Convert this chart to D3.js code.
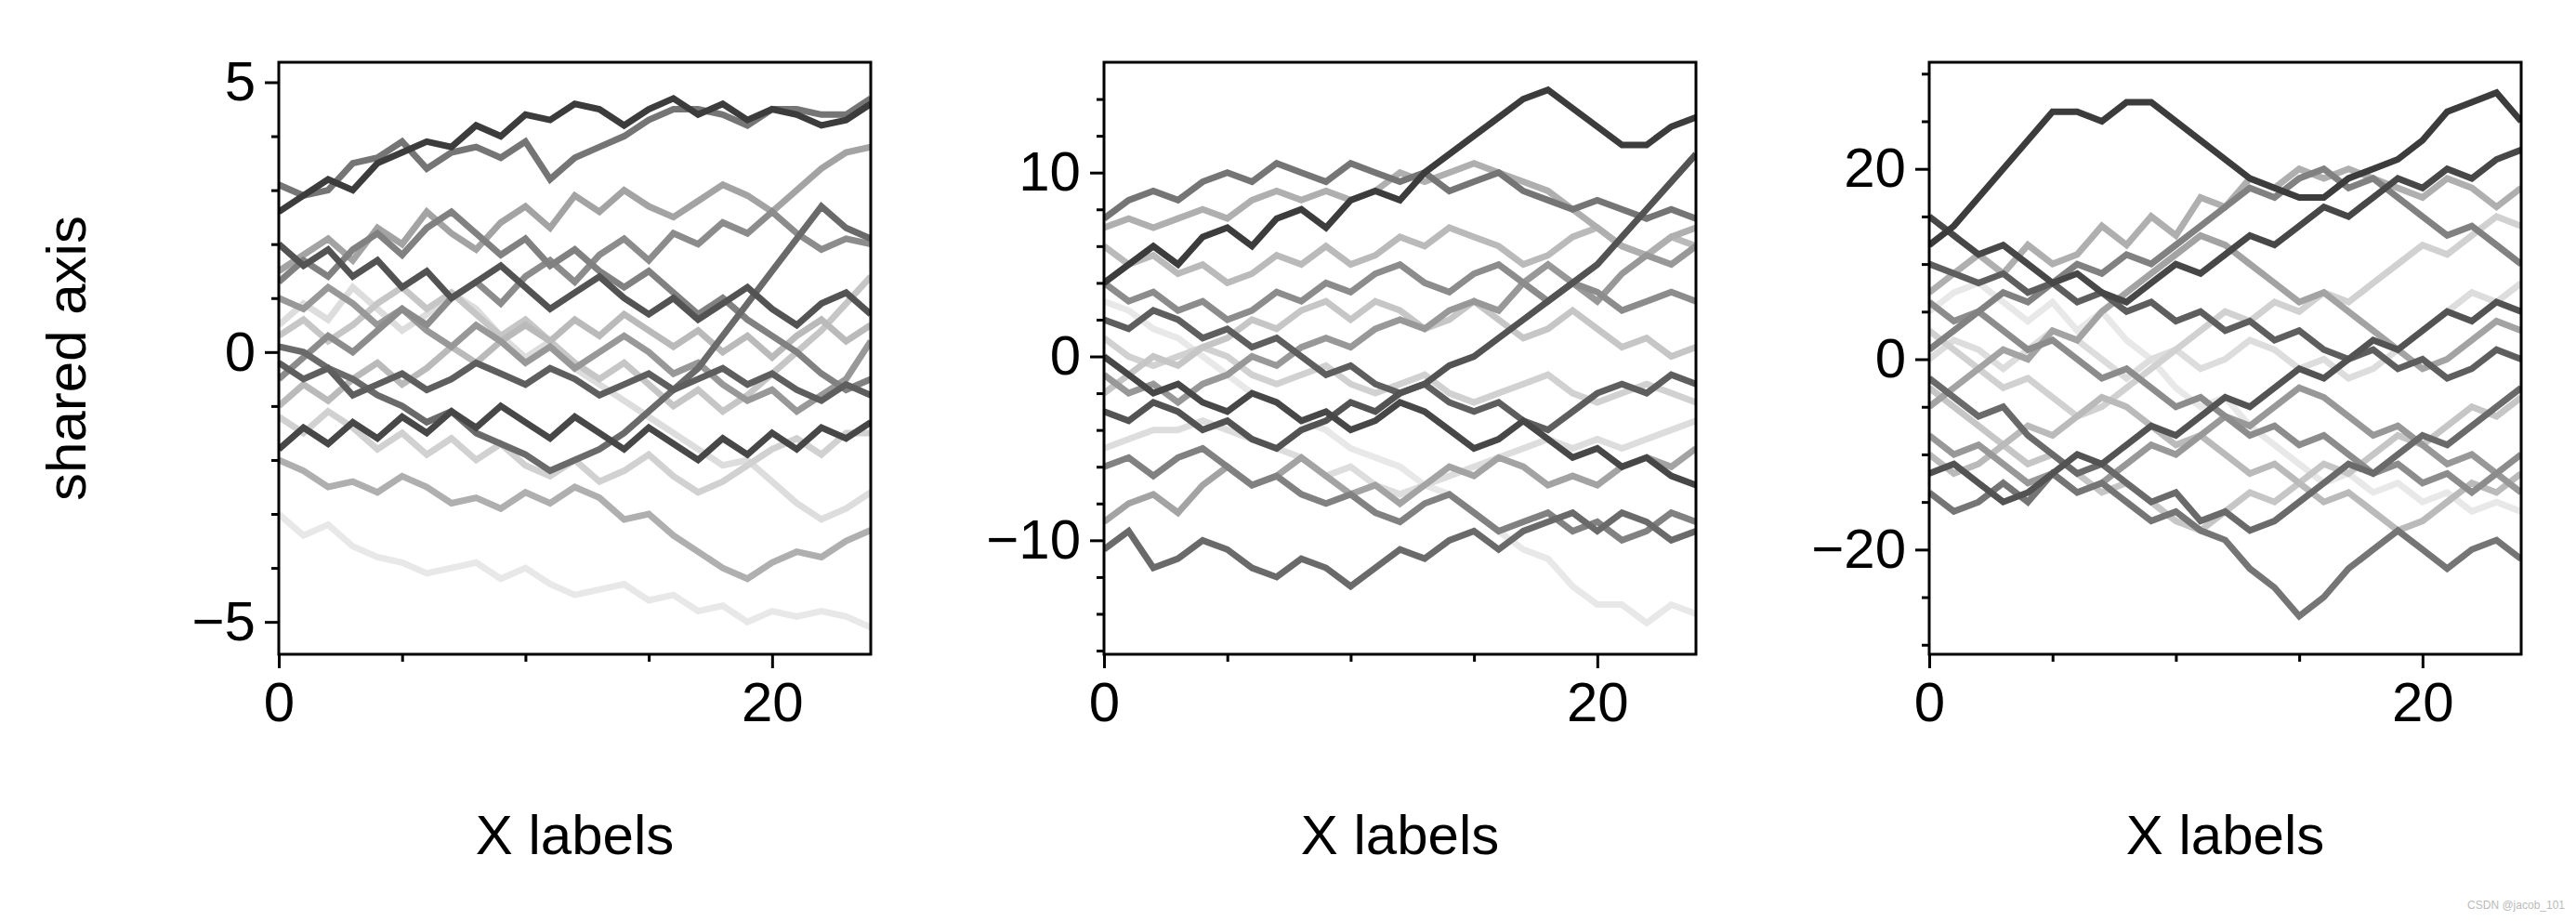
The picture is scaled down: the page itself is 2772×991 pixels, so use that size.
<!DOCTYPE html>
<html><head><meta charset="utf-8">
<script src="https://cdn.jsdelivr.net/npm/d3@7"></script>
<style>body{margin:0;background:#fff}</style></head>
<body><svg id="c" width="2772" height="991"></svg>
<script>
const xs = d3.range(25);
const panel1 = [
[2.6,2.9,3.2,3.0,3.5,3.7,3.9,3.8,4.2,4.0,4.4,4.3,4.6,4.5,4.2,4.5,4.7,4.4,4.6,4.3,4.5,4.4,4.2,4.3,4.6],
[3.1,2.9,3.0,3.5,3.6,3.9,3.4,3.7,3.8,3.6,3.9,3.2,3.6,3.8,4.0,4.3,4.5,4.5,4.4,4.2,4.5,4.5,4.4,4.4,4.7],
[-2.0,-2.2,-2.5,-2.4,-2.6,-2.3,-2.5,-2.8,-2.7,-2.9,-2.6,-2.8,-2.5,-2.7,-3.1,-3.0,-3.4,-3.7,-4.0,-4.2,-3.9,-3.7,-3.8,-3.5,-3.3],
[-3.0,-3.4,-3.2,-3.6,-3.8,-3.9,-4.1,-4.0,-3.9,-4.2,-4.0,-4.3,-4.5,-4.4,-4.3,-4.6,-4.5,-4.8,-4.7,-5.0,-4.8,-4.9,-4.8,-4.9,-5.1],
[0.1,0.0,-0.3,-0.5,-0.8,-1.0,-1.3,-1.1,-1.5,-1.7,-1.9,-2.2,-2.0,-1.8,-1.5,-1.1,-0.7,-0.3,0.3,0.9,1.5,2.1,2.7,2.3,2.1],
[1.5,1.8,2.1,1.7,2.3,2.0,2.6,2.2,1.9,2.4,2.7,2.3,2.9,2.6,3.0,2.7,2.5,2.8,3.1,2.9,2.6,3.0,3.4,3.7,3.8],
[0.5,0.9,0.6,1.2,0.8,0.4,0.7,1.1,0.8,0.3,-0.1,0.2,-0.3,-0.6,-0.9,-1.2,-1.5,-1.8,-2.1,-2.0,-2.4,-2.8,-3.1,-2.9,-2.6],
[-0.2,-0.5,-0.3,-0.8,-0.6,-0.4,-0.7,-0.5,-0.2,-0.4,-0.6,-0.3,-0.5,-0.8,-0.6,-0.4,-0.7,-0.5,-0.3,-0.6,-0.4,-0.7,-0.9,-0.6,-0.8],
[1.0,0.8,1.2,0.9,0.5,0.8,0.4,0.1,0.5,0.2,-0.2,0.1,-0.3,0.0,0.3,0.0,-0.4,-0.2,-0.6,-0.9,-0.7,-1.1,-0.8,-0.5,0.2],
[-1.2,-1.5,-1.1,-1.4,-1.8,-1.5,-1.9,-1.6,-2.0,-1.7,-2.1,-2.3,-2.0,-2.4,-2.2,-1.9,-2.3,-2.6,-2.4,-2.1,-1.8,-1.6,-1.9,-1.5,-1.5],
[2.0,1.6,1.9,1.4,1.7,1.2,1.5,1.0,1.3,1.6,1.2,0.8,1.1,1.4,1.0,0.7,1.0,0.6,0.9,1.2,0.8,0.5,0.9,1.1,0.7],
[-0.5,-0.1,0.3,0.0,0.4,0.8,0.5,1.0,1.3,0.9,1.4,1.7,1.3,1.8,2.1,1.7,2.2,2.0,2.4,2.2,2.6,2.2,1.9,2.1,2.0],
[0.3,0.6,0.2,0.5,0.9,1.2,0.8,1.1,0.7,0.3,0.6,0.2,-0.2,-0.5,-0.2,-0.6,-1.0,-0.7,-1.1,-0.8,-0.4,0.0,0.4,0.9,1.4],
[-1.8,-1.4,-1.7,-1.3,-1.6,-1.2,-1.5,-1.1,-1.4,-1.0,-1.3,-1.6,-1.2,-1.5,-1.8,-1.4,-1.7,-2.0,-1.6,-1.9,-1.5,-1.8,-1.4,-1.6,-1.3],
[1.3,1.7,1.4,1.9,2.2,1.8,2.3,2.6,2.2,1.8,2.1,1.6,1.9,1.5,1.2,1.5,1.1,0.7,1.0,0.6,0.3,0.0,-0.4,-0.7,-0.5],
[-1.0,-0.6,-0.9,-0.5,-0.2,-0.6,-0.3,0.1,-0.2,0.2,0.5,0.2,0.6,0.3,0.7,0.4,0.1,0.4,0.0,0.3,-0.1,0.3,0.6,0.2,0.5]
];
const panel2 = [
[4,5,6,5,6.5,7,6,7.5,8,7,8.5,9,8.5,10,11,12,13,14,14.5,13.5,12.5,11.5,11.5,12.5,13],
[7.5,8.5,9,8.5,9.5,10,9.5,10.5,10,9.5,10.5,10,9.5,10,9,9.5,10,9,8.5,8,8.5,8,7.5,8,7.5],
[7,7.5,7,7.5,8,7.5,8.5,9,8.5,9,8.5,9,10,9.5,10,10.5,10,9.5,9,8,7,6,5.5,6.5,7],
[3,2.5,1.5,1,0,-1,-2,-2.5,-3.5,-4,-5,-5.5,-6,-7,-7.5,-8.5,-9.5,-10.5,-11,-12.5,-13.5,-13.5,-14.5,-13.5,-14],
[-10.5,-9.5,-11.5,-11,-10,-10.5,-11.5,-12,-11,-11.5,-12.5,-11.5,-10.5,-11,-10,-9.5,-10.5,-9.5,-9,-8.5,-9.5,-8.5,-9,-10,-9.5],
[-9,-8,-7.5,-8.5,-7,-6,-7,-6.5,-5.5,-6.5,-7.5,-7,-8,-7,-6,-6.5,-5.5,-6,-7,-6.5,-7,-6,-5.5,-6,-5],
[-5,-4.5,-4,-4,-3.5,-4,-4.5,-5,-5.5,-6.5,-6,-7,-7.5,-7,-6.5,-6,-5.5,-5,-4.5,-5,-4.5,-5,-4.5,-4,-3.5],
[2,1.5,2.5,2,1,1.5,0.5,1,0,-1,-0.5,-1.5,-2,-1.5,-2.5,-3,-2.5,-3.5,-4,-3,-2,-1.5,-2,-1,-1.5],
[-1,-2,-1.5,-2.5,-1.5,-1,0,-0.5,0.5,1,0.5,1.5,2,1.5,2.5,3,2.5,4,5,4,3,4.5,5.5,5,6],
[1,0,-0.5,0,0.5,0,-1,-1.5,-1,-0.5,-1.5,-2,-1.5,-1,-2,-2.5,-2,-1.5,-1,-2,-2.5,-2,-1.5,-2,-2.5],
[-3,-3.5,-2.5,-3,-4,-3.5,-4.5,-5,-4,-3.5,-2.5,-3,-2,-1.5,-0.5,0,1,2,3,4,5,6.5,8,9.5,11],
[4,3,3.5,2.5,3,2,2.5,3.5,3,4,3.5,4.5,5,4,3.5,4.5,5,4,3,4,3.5,2.5,3,3.5,3],
[-2,-1,0,-0.5,0.5,1,2,1.5,2.5,3,2,3,2.5,1.5,2,3,2,1,1.5,2.5,1.5,0.5,1,0,0.5],
[0,-1,-2,-1.5,-2.5,-3,-2,-2.5,-3.5,-3,-4,-3.5,-2.5,-3,-4,-5,-4.5,-3.5,-4.5,-5.5,-5,-6,-5.5,-6.5,-7],
[-6,-5.5,-6.5,-5.5,-5,-6,-7,-6.5,-7.5,-8,-7.5,-8.5,-9,-8,-7.5,-8.5,-9.5,-9,-8.5,-9.5,-9,-10,-9.5,-8.5,-9],
[6,5,5.5,4.5,5,4,4.5,5.5,5,6,5,5.5,6.5,6,7,6.5,6,5,5.5,6.5,7,6,5.5,6.5,6]
];
const panel3 = [
[12,14,17,20,23,26,26,25,27,27,25,23,21,19,18,17,17,19,20,21,23,26,27,28,25],
[-14,-16,-15,-13,-15,-12,-14,-13,-15,-17,-16,-18,-19,-22,-24,-27,-25,-22,-20,-18,-20,-22,-20,-19,-21],
[7,9,11,9,12,10,11,14,12,15,13,17,16,19,18,20,19,20,19,18,17,19,18,16,18],
[5,7,8,6,4,6,3,5,2,0,-3,-5,-4,-7,-9,-11,-13,-12,-14,-13,-15,-14,-16,-15,-16],
[-2,-4,-6,-5,-8,-10,-12,-11,-13,-15,-14,-17,-16,-18,-17,-15,-13,-11,-12,-10,-8,-9,-7,-5,-3],
[-5,-3,-1,1,0,3,2,5,7,9,11,13,12,10,8,6,7,5,3,1,-1,0,2,4,3],
[0,2,1,-1,1,3,2,0,-2,0,1,-1,0,2,1,-1,0,-2,-1,1,3,5,7,6,8],
[10,9,8,9,7,8,6,7,5,6,4,5,3,4,2,3,1,0,1,-1,0,-2,-1,1,0],
[-8,-10,-9,-11,-13,-12,-14,-13,-11,-9,-10,-8,-6,-7,-5,-3,-4,-6,-8,-7,-9,-11,-10,-12,-14],
[3,1,-1,-3,-2,-4,-6,-5,-3,-1,1,3,5,4,6,5,7,6,8,10,12,11,13,15,14],
[-12,-11,-13,-15,-14,-12,-10,-11,-9,-7,-8,-6,-4,-5,-3,-1,-2,0,2,1,3,5,4,6,5],
[6,4,5,3,1,2,0,-2,-1,-3,-5,-4,-6,-8,-7,-9,-8,-10,-12,-11,-13,-12,-14,-12,-10],
[-3,-5,-7,-9,-11,-10,-12,-14,-13,-15,-17,-18,-16,-14,-15,-13,-11,-12,-10,-8,-9,-7,-5,-6,-4],
[15,13,11,12,10,8,9,7,6,8,10,9,11,13,12,14,16,15,17,19,18,20,19,21,22],
[1,3,5,7,6,8,10,9,11,10,12,14,16,18,17,19,20,18,19,17,15,13,14,12,10],
[-10,-12,-11,-9,-7,-8,-6,-4,-5,-7,-9,-8,-10,-12,-11,-13,-15,-14,-16,-18,-17,-15,-13,-14,-12]
];
const panels = [panel1, panel2, panel3];
const yDomains = [[-5.6,5.37],[-16.2,16],[-31,31.2]];
const yMajor = [[-5,0,5],[-10,0,10],[-20,0,20]];
const yMinorStep = [1,2,5];
const xMajor = [0,20];
const xMinor = [5,10,15];
const xLabel = "X labels", yLabel = "shared axis";

const svg = d3.select("#c");
const font = "'Liberation Sans', Arial, sans-serif";
const lefts = [300,1188,2076], W = 637, topY = 67, H = 637;
panels.forEach((data,p)=>{
  const g = svg.append("g").attr("transform",`translate(${lefts[p]},${topY})`);
  const x = d3.scaleLinear().domain([0,24]).range([0,W]);
  const y = d3.scaleLinear().domain(yDomains[p]).range([H,0]);
  const n = data.length;
  const shade = i => d3.interpolateRgb("#3c3c3c","#e8e8e8")(((i*5)%n)/(n-1));
  const clip = "clip"+p;
  g.append("clipPath").attr("id",clip).append("rect").attr("width",W).attr("height",H);
  const line = d3.line().x((d,i)=>x(xs[i])).y(d=>y(d));
  const order = d3.range(n).sort((a,b)=>((b*5)%n)-((a*5)%n));
  g.append("g").attr("clip-path",`url(#${clip})`).selectAll("path").data(order).join("path")
    .attr("d",i=>line(data[i])).attr("fill","none").attr("stroke",i=>shade(i))
    .attr("stroke-width",7).attr("stroke-linejoin","miter");
  const [lo,hi]=yDomains[p];
  const yMinor = d3.range(Math.ceil(lo/yMinorStep[p])*yMinorStep[p], hi, yMinorStep[p]).filter(v=>!yMajor[p].includes(v));
  g.append("g").attr("transform",`translate(0,${H})`).call(d3.axisBottom(x).tickValues(xMajor).tickSize(15).tickPadding(14));
  g.append("g").attr("transform",`translate(0,${H})`).call(d3.axisBottom(x).tickValues(xMinor).tickSize(8).tickFormat(""));
  g.append("g").call(d3.axisLeft(y).tickValues(yMajor[p]).tickSize(15).tickPadding(10).tickFormat(d=>d<0?"\u2212"+(-d):d));
  g.append("g").call(d3.axisLeft(y).tickValues(yMinor).tickSize(8).tickFormat(""));
  g.append("rect").attr("width",W).attr("height",H).attr("fill","none").attr("stroke","#000").attr("stroke-width",3);
  svg.selectAll(".domain").attr("stroke","none");
  svg.selectAll(".tick line").attr("stroke","#000").attr("stroke-width",3);
  svg.selectAll(".tick text").attr("font-family",font).attr("font-size",60).attr("fill","#000");
  g.append("text").attr("x",W/2).attr("y",H+215).attr("text-anchor","middle")
    .attr("font-family",font).attr("font-size",60).text(xLabel);
  if(p===0) g.append("text").attr("transform",`translate(-208,${H/2}) rotate(-90)`).attr("text-anchor","middle")
    .attr("font-family",font).attr("font-size",60).text(yLabel);
});
svg.append("text").attr("x",2760).attr("y",978).attr("text-anchor","end").attr("font-family",font)
  .attr("font-size",12).attr("fill","#bbb").text("CSDN @jacob_101");
</script></body></html>
